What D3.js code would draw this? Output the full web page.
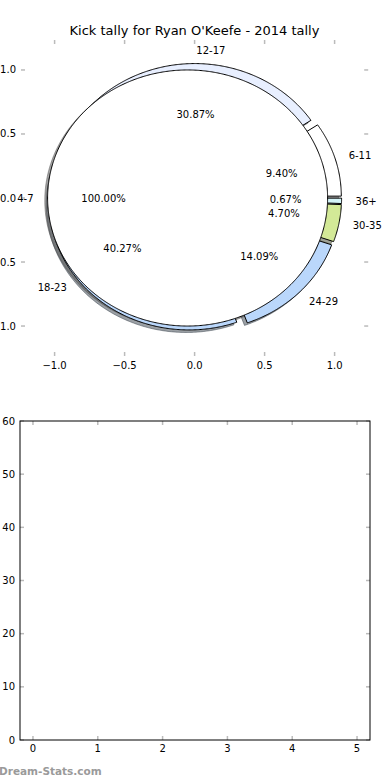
<!DOCTYPE html>
<html><head><meta charset="utf-8">
<script src="https://cdn.jsdelivr.net/npm/d3@7"></script>
<style>body{margin:0;background:#fff} text{font-family:"DejaVu Sans",sans-serif;}</style>
</head><body>
<svg id="c" width="390" height="780"></svg>
<script>
// ---- data ----
const title = "Kick tally for Ryan O'Keefe - 2014 tally";
const ringLabels = ["6-11", "12-17", "18-23", "24-29", "30-35", "36+"];
const ringCounts = [14, 46, 60, 21, 7, 1];
const ringColors = ["#ffffff", "#e8efff", "#bad7fb", "#bad7fb", "#d3e997", "#d4f4f8"];
const fullLabels = ["4-7"];
const fullCounts = [1];
const fullColors = ["#ffffff"];
const explodeAmt = 0.05;
const pieTicks = [-1.0, -0.5, 0.0, 0.5, 1.0];
const barXTicks = [0, 1, 2, 3, 4, 5];
const barYTicks = [0, 10, 20, 30, 40, 50, 60];
const watermark = "Dream-Stats.com";

const svg = d3.select("#c");
const tickColor = "#bbbbbb";

// ---- pie axes ----
const px = d3.scaleLinear().domain([-1.24, 1.24]).range([21, 368.2]);
const py = d3.scaleLinear().domain([-1.234, 1.234]).range([356, 40]);
const line = d3.line().x(p => px(p[0])).y(p => py(p[1]));

svg.append("text").attr("x", 194.5).attr("y", 35).attr("text-anchor", "middle")
  .attr("font-size", 13).attr("fill", "#000").text(title);

// ticks (no spines)
const gT = svg.append("g").attr("stroke", tickColor).attr("stroke-width", 1.5);
pieTicks.forEach(t => {
  gT.append("line").attr("x1", px(t)).attr("x2", px(t)).attr("y1", 40).attr("y2", 44);
  gT.append("line").attr("x1", px(t)).attr("x2", px(t)).attr("y1", 356).attr("y2", 352);
  gT.append("line").attr("y1", py(t)).attr("y2", py(t)).attr("x1", 21).attr("x2", 25);
  gT.append("line").attr("y1", py(t)).attr("y2", py(t)).attr("x1", 368.2).attr("x2", 364.2);
});
const fmtTick = d3.format(".1f");
const tickTxt = t => fmtTick(t).replace("-", "\u2212");
pieTicks.forEach(t => {
  svg.append("text").attr("x", px(t)).attr("y", 369).attr("text-anchor", "middle")
    .attr("font-size", 10).text(tickTxt(t));
  svg.append("text").attr("x", 16).attr("y", py(t)).attr("dy", "0.35em").attr("text-anchor", "end")
    .attr("font-size", 10).text(tickTxt(t));
});

function buildWedges(counts, labels, colors) {
  const pie = d3.pie().sort(null).value(d => d).startAngle(0).endAngle(2 * Math.PI);
  const total = d3.sum(counts);
  return pie(counts).map((a, i) => {
    const t1 = a.startAngle, t2 = a.endAngle, mid = (t1 + t2) / 2;
    const cx = explodeAmt * Math.cos(mid), cy = explodeAmt * Math.sin(mid);
    const full = (t2 - t1) >= 2 * Math.PI - 1e-9;
    const n = Math.max(4, Math.ceil((t2 - t1) / (Math.PI / 360)));
    const pts = [];
    if (!full) pts.push([cx, cy]);
    for (let k = 0; k <= n; k++) {
      const th = t1 + (t2 - t1) * k / n;
      pts.push([cx + Math.cos(th), cy + Math.sin(th)]);
    }
    return { pts, mid, cx, cy, color: colors[i], label: labels[i],
             pct: d3.format(".2f")(a.value / total * 100) + "%" };
  });
}
const ring = buildWedges(ringCounts, ringLabels, ringColors);
const full = buildWedges(fullCounts, fullLabels, fullColors);
const allW = ring.concat(full);

// shadows first
allW.forEach(w => {
  const c = d3.rgb(w.color);
  const sc = d3.rgb(c.r * 0.3, c.g * 0.3, c.b * 0.3).toString();
  const sp = w.pts.map(p => [p[0] - 0.02, p[1] - 0.02]);
  svg.append("path").attr("d", line(sp) + "Z").attr("fill", sc).attr("fill-opacity", 0.5)
    .attr("stroke", sc).attr("stroke-opacity", 0.5).attr("stroke-width", 1);
});
// wedges
allW.forEach(w => {
  svg.append("path").attr("d", line(w.pts) + "Z").attr("fill", w.color)
    .attr("stroke", "#000").attr("stroke-width", 1).attr("stroke-linejoin", "miter");
});
// texts
allW.forEach(w => {
  const lx = w.cx + 1.1 * Math.cos(w.mid), ly = w.cy + 1.1 * Math.sin(w.mid);
  svg.append("text").attr("x", px(lx)).attr("y", py(ly)).attr("dy", "0.35em")
    .attr("text-anchor", lx > 0 ? "start" : "end").attr("font-size", 10).text(w.label);
  const qx = w.cx + 0.6 * Math.cos(w.mid), qy = w.cy + 0.6 * Math.sin(w.mid);
  svg.append("text").attr("x", px(qx)).attr("y", py(qy)).attr("dy", "0.35em")
    .attr("text-anchor", "middle").attr("font-size", 10).text(w.pct);
});

// ---- bottom axes ----
const bx = d3.scaleLinear().domain([-0.2, 5.2]).range([20, 370]);
const by = d3.scaleLinear().domain([0, 60]).range([740, 421]);
const gB = svg.append("g").attr("stroke", tickColor).attr("stroke-width", 1.5);
barXTicks.forEach(t => {
  gB.append("line").attr("x1", bx(t)).attr("x2", bx(t)).attr("y1", 740).attr("y2", 736);
  gB.append("line").attr("x1", bx(t)).attr("x2", bx(t)).attr("y1", 421).attr("y2", 425);
  svg.append("text").attr("x", bx(t)).attr("y", 752).attr("text-anchor", "middle")
    .attr("font-size", 10).text(t);
});
barYTicks.forEach(t => {
  gB.append("line").attr("y1", by(t)).attr("y2", by(t)).attr("x1", 20).attr("x2", 24);
  gB.append("line").attr("y1", by(t)).attr("y2", by(t)).attr("x1", 370).attr("x2", 366);
  svg.append("text").attr("x", 15).attr("y", by(t)).attr("dy", "0.35em").attr("text-anchor", "end")
    .attr("font-size", 10).text(t);
});
svg.append("rect").attr("x", 20).attr("y", 421).attr("width", 350).attr("height", 319)
  .attr("fill", "none").attr("stroke", "#000").attr("stroke-width", 1);

svg.append("text").attr("x", -1).attr("y", 775).attr("font-size", 10.5).attr("font-weight", "bold")
  .attr("fill", "#9a9a9a").text(watermark);
</script>
</body></html>
